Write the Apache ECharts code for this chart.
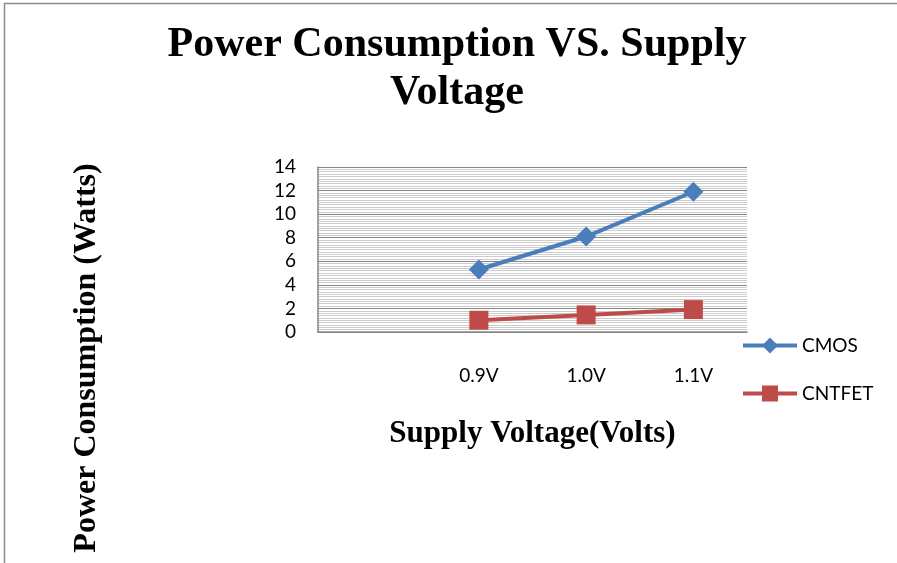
<!DOCTYPE html>
<html lang="en">
<head>
    <meta charset="UTF-8">
    <title>Power Consumption VS. Supply Voltage</title>
    <script src="https://cdn.jsdelivr.net/npm/echarts@6/dist/echarts.min.js"></script>
    <style>
        html, body { margin: 0; padding: 0; background: #fff; }
    </style>
</head>
<body>
<div id="chart" style="width: 897px;height: 563px;"></div>
<script>
    // categories (first slot is empty in the original)
    var categories = ['', '0.9V', '1.0V', '1.1V'];
    var cmos = [null, 5.3, 8.1, 11.9];
    var cntfet = [null, 1.0, 1.45, 1.9];

    var serif = '"Liberation Serif", "Times New Roman", serif';
    var sans = 'Lato, "Open Sans", sans-serif';

    var myChart = echarts.init(document.getElementById('chart'));
    var option = {
        backgroundColor: '#fff',
        animation: false,
        title: {
            text: 'Power Consumption VS. Supply\nVoltage',
            left: 452,
            textAlign: 'center',
            top: 16,
            textStyle: {
                fontFamily: serif,
                fontSize: 42,
                fontWeight: 'bold',
                color: '#000',
                lineHeight: 48
            }
        },
        legend: {
            orient: 'vertical',
            left: 741,
            top: 336,
            padding: 0,
            itemGap: 29,
            itemWidth: 54,
            itemHeight: 20,
            lineStyle: { width: 4 },
            textStyle: { fontFamily: sans, fontSize: 19, color: '#000' },
            data: ['CMOS', 'CNTFET']
        },
        grid: {
            left: 318,
            right: 150,
            top: 167,
            bottom: 231
        },
        xAxis: {
            type: 'category',
            data: categories,
            name: 'Supply Voltage(Volts)',
            nameLocation: 'middle',
            nameGap: 86,
            nameTextStyle: {
                fontFamily: serif,
                fontSize: 31,
                fontWeight: 'bold',
                color: '#000'
            },
            axisLine: { lineStyle: { color: '#868686', width: 1.5 } },
            axisTick: { show: false },
            axisLabel: {
                margin: 34,
                fontFamily: sans,
                fontSize: 19,
                color: '#000'
            }
        },
        yAxis: {
            type: 'value',
            min: 0,
            max: 14,
            interval: 2,
            axisLine: { show: true, lineStyle: { color: '#868686', width: 1.5 } },
            axisTick: { show: false },
            axisLabel: {
                margin: 22,
                fontFamily: sans,
                fontSize: 19,
                color: '#000'
            },
            splitLine: { lineStyle: { color: '#868686', width: 1 } },
            minorTick: { show: false, splitNumber: 10 },
            minorSplitLine: { show: true, lineStyle: { color: '#cccccc', width: 1 } }
        },
        graphic: [
            {
                type: 'polyline',
                shape: { points: [[4.5, 563], [4.5, 3.5], [897, 3.5]] },
                style: { stroke: '#8c8c8c', lineWidth: 1.5, fill: null }
            },
            {
                type: 'text',
                x: 87,
                y: 358,
                rotation: Math.PI / 2,
                style: {
                    text: 'Power Consumption (Watts)',
                    font: 'bold 32px ' + serif,
                    fill: '#000',
                    align: 'center',
                    verticalAlign: 'middle'
                }
            }
        ],
        series: [
            {
                name: 'CMOS',
                type: 'line',
                data: cmos,
                symbol: 'diamond',
                symbolSize: 20,
                color: '#4A7EBB',
                lineStyle: { width: 4 },
                itemStyle: { color: '#4A7EBB' }
            },
            {
                name: 'CNTFET',
                type: 'line',
                data: cntfet,
                symbol: 'rect',
                symbolSize: 19,
                color: '#BE4B48',
                lineStyle: { width: 4 },
                itemStyle: { color: '#BE4B48' }
            }
        ]
    };
    myChart.setOption(option);
</script>
</body>
</html>
